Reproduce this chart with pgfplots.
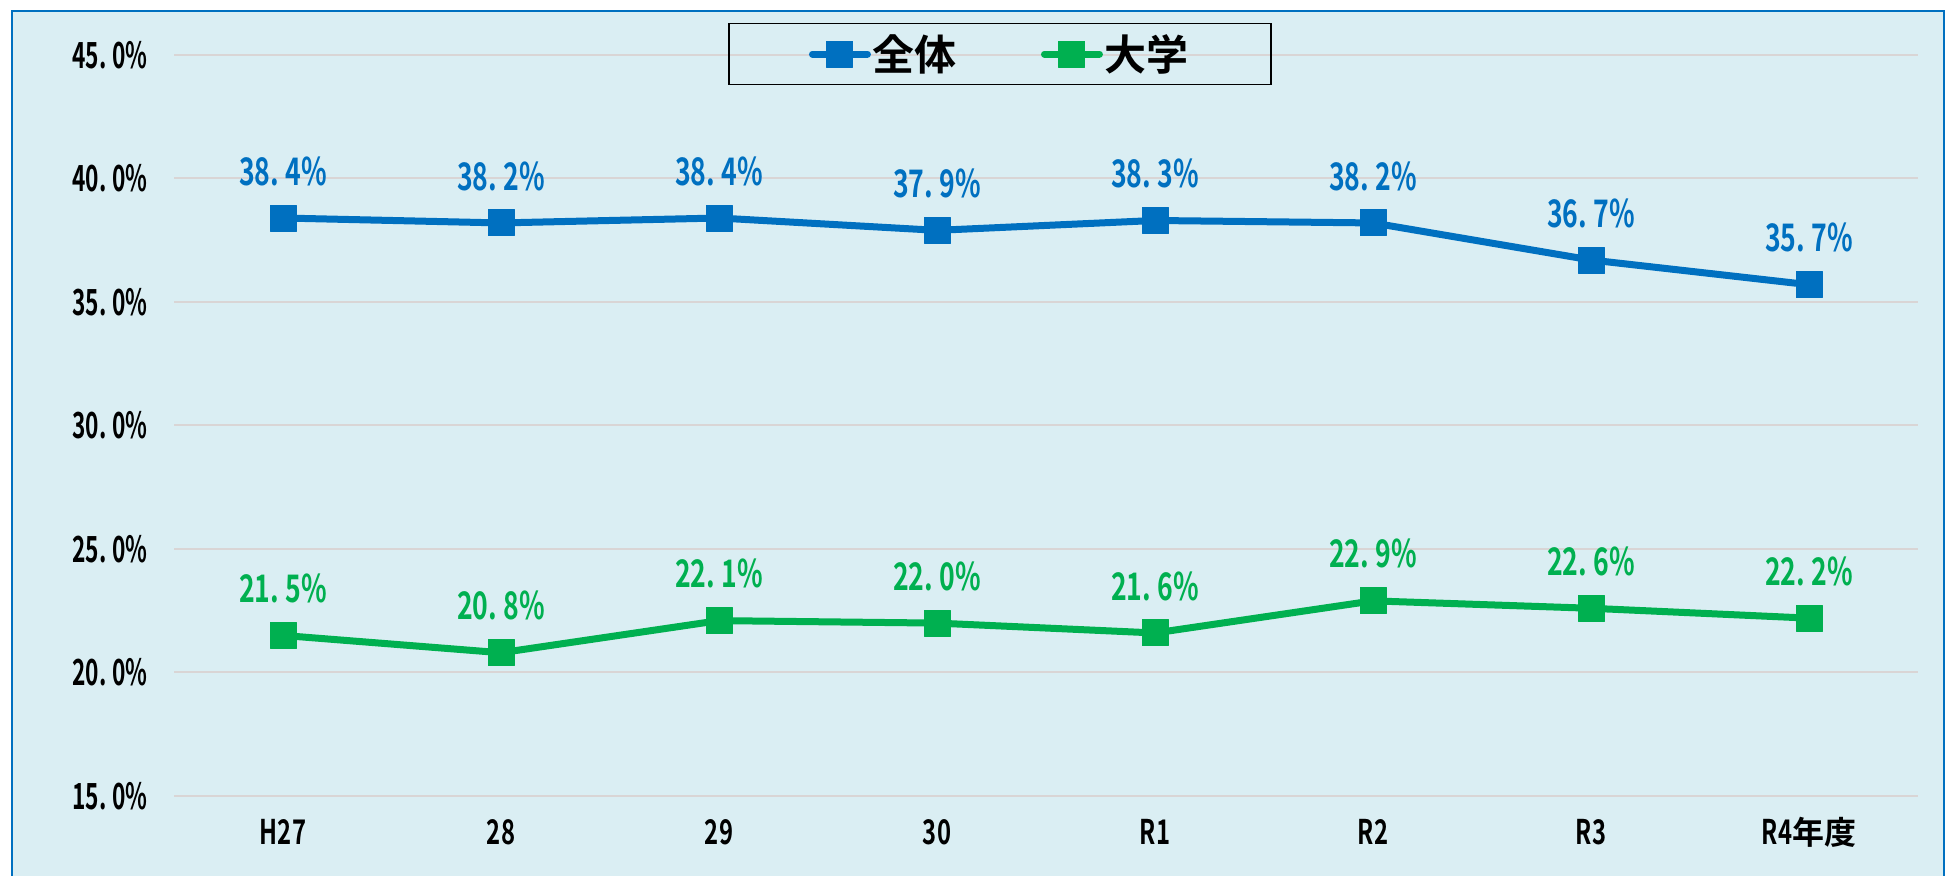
\documentclass[border=0pt]{standalone}
\usepackage{pgfplots}
\pgfplotsset{compat=1.18}
\usepackage{fontspec}
\newfontfamily\numfont{Noto Sans CJK JP Bold}[FakeStretch=0.70]
\newfontfamily\tickfont{Noto Sans CJK JP Bold}[FakeStretch=0.63]
\newfontfamily\legfont{Noto Sans CJK JP Bold}
\definecolor{bgc}{HTML}{DAEEF3}
\definecolor{frame}{HTML}{0070C0}
\definecolor{cblue}{HTML}{0070C0}
\definecolor{cgreen}{HTML}{00B050}
\definecolor{gridc}{HTML}{D9D5D5}
\newcommand\dotc{\makebox[0.4em][l]{.}}
\newcommand\dott{\makebox[0.37em][l]{.}}
\begin{document}
\begin{tikzpicture}
\useasboundingbox (0pt,0pt) rectangle (974pt,438pt);
\fill[white] (0pt,0pt) rectangle (974pt,438pt);
\filldraw[fill=bgc, draw=frame, line width=1.2pt] (6pt,-10pt) rectangle (972pt,432.5pt);
\begin{axis}[
  at={(87pt,40pt)}, anchor=south west,
  scale only axis, width=872pt, height=370.5pt,
  xmin=-0.5, xmax=7.5, ymin=15, ymax=45,
  xtick={0,...,7},
  xticklabels={H27,28,29,30,R1,R2,R3,R4{\legfont\fontsize{16}{16}\selectfont 年度}},
  ytick={15,20,...,45},
  axis line style={draw=none},
  major tick length=0pt,
  ymajorgrids, major grid style={draw=gridc, line width=1pt},
  /pgf/number format/assume math mode=true,
  /pgf/number format/set decimal separator={\dotc},
  yticklabel={\pgfmathprintnumber[fixed,fixed zerofill,precision=1,set decimal separator={\dott}]{\tick}\%},
  yticklabel style={font=\tickfont\fontsize{18}{18}\selectfont, anchor=east, inner sep=0pt, xshift=-13pt},
  xticklabel style={font=\numfont\fontsize{17}{17}\selectfont, anchor=center, inner sep=0pt, yshift=-18pt},
  nodes near coords={\pgfmathprintnumber[fixed,fixed zerofill,precision=1]{\pgfplotspointmeta}\%},
  every node near coord/.append style={font=\numfont\fontsize{19}{19}\selectfont, anchor=center, inner sep=0pt, yshift=23.5pt},
  legend columns=2,
  legend style={at={(0.4736,1.0013)}, anchor=center, draw=black, line width=0.8pt, fill=none,
    inner xsep=40pt, inner ysep=5.5pt,
    font=\legfont\fontsize{21}{21}\selectfont,
    nodes={inner sep=0pt, inner xsep=1pt},
    /tikz/every even column/.append style={column sep=41pt}},
  legend image code/.code={\draw[#1, mark size=6.5pt, mark repeat=2, mark phase=2] plot coordinates {(1.75pt,0pt) (15.5pt,0pt) (29.25pt,0pt)};},
]
\addplot[color=cblue, line width=3.5pt, line cap=round, line join=round, mark=square*, mark size=6.5pt, mark options={solid, line width=0.5pt}, every node near coord/.append style={text=cblue}]
  coordinates {(0,38.4) (1,38.2) (2,38.4) (3,37.9) (4,38.3) (5,38.2) (6,36.7) (7,35.7)};
\addlegendentry{全体}
\addplot[color=cgreen, line width=3.5pt, line cap=round, line join=round, mark=square*, mark size=6.5pt, mark options={solid, line width=0.5pt}, every node near coord/.append style={text=cgreen}]
  coordinates {(0,21.5) (1,20.8) (2,22.1) (3,22.0) (4,21.6) (5,22.9) (6,22.6) (7,22.2)};
\addlegendentry{大学}
\end{axis}
\end{tikzpicture}
\end{document}
